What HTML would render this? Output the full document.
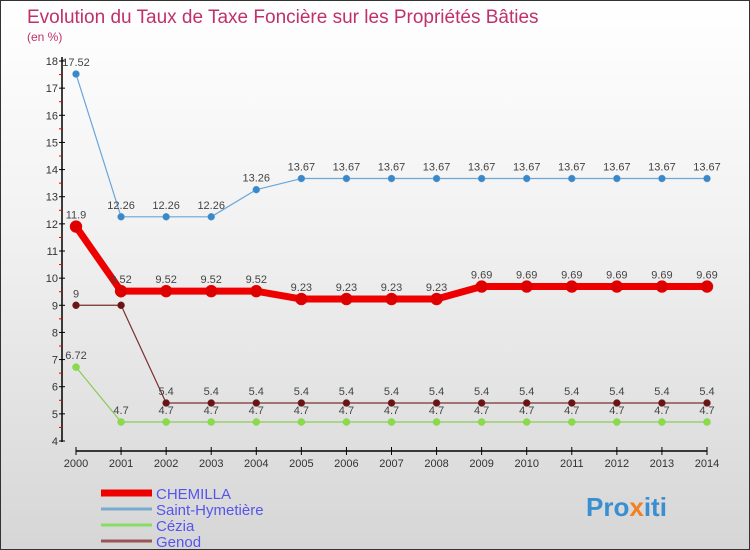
<!DOCTYPE html>
<html><head><meta charset="utf-8"><style>
body{margin:0}
#c{width:750px;height:550px;position:relative;overflow:hidden;font-family:"Liberation Sans",sans-serif;background:linear-gradient(#ffffff,#f2f2f2 40%,#d6d6d6);box-sizing:border-box;border:1px solid #333}
</style></head><body>
<div id="c">
<svg id="s" width="750" height="550" style="position:absolute;left:0;top:0" font-family="Liberation Sans, sans-serif">
<text x="26" y="22" font-size="19" fill="#c0306a">Evolution du Taux de Taxe Foncière sur les Propriétés Bâties</text>
<text x="26" y="40" font-size="12" fill="#c0306a">(en %)</text>
<text x="585" y="515" font-size="26" font-weight="bold" fill="#3a8fd0">Pro<tspan fill="#f08020">x</tspan>iti</text>
</svg>
</div>
<script>
const years=[2000,2001,2002,2003,2004,2005,2006,2007,2008,2009,2010,2011,2012,2013,2014];
const yTicks=[4,5,6,7,8,9,10,11,12,13,14,15,16,17,18];
const names=["CHEMILLA","Saint-Hymetière","Cézia","Genod"];
const chemilla=[11.9,9.52,9.52,9.52,9.52,9.23,9.23,9.23,9.23,9.69,9.69,9.69,9.69,9.69,9.69];
const saint=[17.52,12.26,12.26,12.26,13.26,13.67,13.67,13.67,13.67,13.67,13.67,13.67,13.67,13.67,13.67];
const cezia=[6.72,4.7,4.7,4.7,4.7,4.7,4.7,4.7,4.7,4.7,4.7,4.7,4.7,4.7,4.7];
const genod=[9,9,5.4,5.4,5.4,5.4,5.4,5.4,5.4,5.4,5.4,5.4,5.4,5.4,5.4];
const NS="http://www.w3.org/2000/svg",s=document.getElementById('s');
const X=i=>75+i*(706-75)/(years.length-1);
const Y=v=>440-(v-4)*(380/14);
function el(t,a,p){const e=document.createElementNS(NS,t);for(const k in a)e.setAttribute(k,a[k]);(p||s).appendChild(e);return e;}
let ax=el('line',{x1:61,y1:56,x2:61,y2:441,stroke:'#000','stroke-width':1.5});


yTicks.forEach(v=>{el('line',{x1:58,x2:64,y1:Y(v),y2:Y(v),stroke:'#000'});
 if(v<18)el('line',{x1:58,x2:61,y1:Y(v+0.5),y2:Y(v+0.5),stroke:'#e00'});
 const t=el('text',{x:57,y:Y(v)+4,'font-size':11,fill:'#333','text-anchor':'end'});t.textContent=v;
 
 });
let xa=el('line',{x1:75,y1:450,x2:706,y2:450,stroke:'#000','stroke-width':1.5});


years.forEach((y,i)=>{el('line',{x1:X(i),x2:X(i),y1:446,y2:454,stroke:'#000'});
 const t=el('text',{x:X(i),y:466,'font-size':11,fill:'#333','text-anchor':'middle'});t.textContent=y;
 
 });
function series(d,col,w,r,dot,name){
 const g=el('g',{});
 
 
 el('polyline',{points:d.map((v,i)=>X(i)+','+Y(v)).join(' '),fill:'none',stroke:col,'stroke-width':w,'stroke-linejoin':'round'},g);
 d.forEach((v,i)=>{el('circle',{cx:X(i),cy:Y(v),r:r,fill:dot,stroke:col,'stroke-width':0.5},g);
  const t=el('text',{x:X(i),y:Y(v)-8,'font-size':11,fill:'#444','text-anchor':'middle'},g);t.textContent=v;});
}
series(cezia,'#88cc55',1.2,3.5,'#88dd44','series-cezia');
series(genod,'#7a3030',1.2,3.5,'#6a1515','series-genod');
series(saint,'#6aa6d8',1.2,3.5,'#3a88c8','series-saint-hymetiere');
series(chemilla,'#ee0000',7,6,'#dd0000','series-chemilla');
const lc=['#ee0000','#7aaad0','#88dd66','#9a5555'],lw=[7,3,3,3];
names.forEach((n,i)=>{const g=el('g',{});
 
 
 const y=492+i*16;
 el('line',{x1:100,x2:151,y1:y,y2:y,stroke:lc[i],'stroke-width':lw[i]},g);
 const t=el('text',{x:155,y:y+6,'font-size':15,fill:'#5555ee'},g);t.textContent=n;});
</script>
</body></html>
